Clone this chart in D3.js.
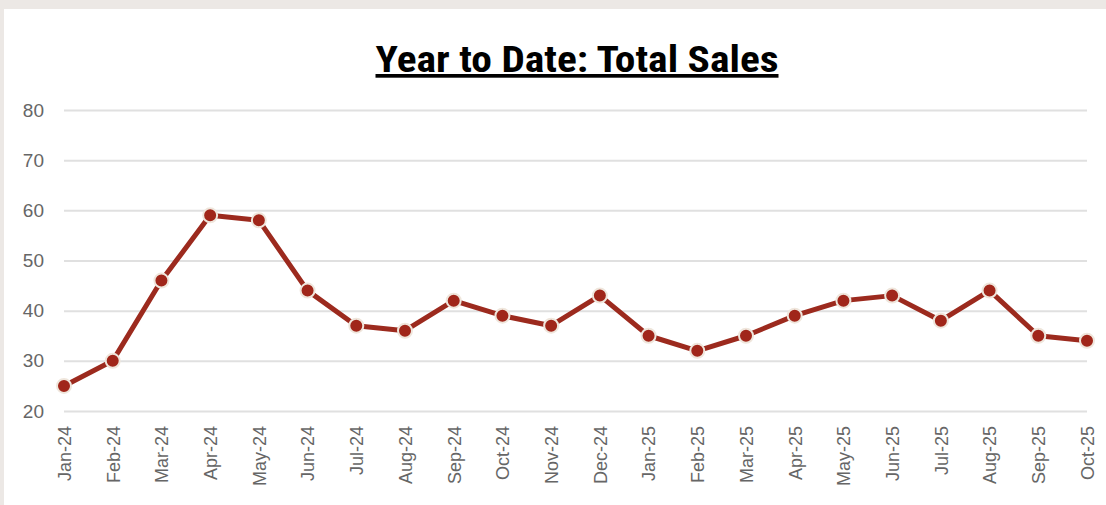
<!DOCTYPE html>
<html>
<head>
<meta charset="utf-8">
<script src="https://cdn.jsdelivr.net/npm/d3@7"></script>
<style>
  body { margin: 0; background: #ece8e5; }
  svg { display: block; }
</style>
</head>
<body>
<div class="box"></div>
<script>
const months = ['Jan-24','Feb-24','Mar-24','Apr-24','May-24','Jun-24','Jul-24','Aug-24','Sep-24','Oct-24','Nov-24','Dec-24',
                'Jan-25','Feb-25','Mar-25','Apr-25','May-25','Jun-25','Jul-25','Aug-25','Sep-25','Oct-25'];
const sales = [25, 30, 46, 59, 58, 44, 37, 36, 42, 39, 37, 43, 35, 32, 35, 39, 42, 43, 38, 44, 35, 34];
const yTicks = [20, 30, 40, 50, 60, 70, 80];

const dims = {width: 1106, height: 505};
const plot = {left: 64, right: 1087, top: 110, bottom: 411};

const svg = d3.select('.box')
              .append('svg')
              .attr('width', dims.width)
              .attr('height', dims.height);

// fond blanc du graphique
svg.append('rect')
   .attr('x', 4).attr('y', 9)
   .attr('width', dims.width - 4).attr('height', dims.height - 9)
   .attr('fill', '#fff');

const x = d3.scalePoint()
            .domain(months)
            .range([plot.left, plot.right]);

const y = d3.scaleLinear()
            .domain([20, 80])
            .range([plot.bottom, plot.top]);

// titre
svg.append('text')
   .attr('x', 577).attr('y', 72)
   .attr('text-anchor', 'middle')
   .attr('font-family', '"Liberation Sans Narrow", "Roboto Condensed", sans-serif')
   .attr('font-weight', 'bold')
   .attr('font-size', 37)
   .attr('textLength', 403)
   .attr('lengthAdjust', 'spacingAndGlyphs')
   .attr('text-decoration', 'underline')
   .attr('fill', '#000')
   .text('Year to Date: Total Sales');

// grille + axe y
const yAxis = svg.append('g')
   .attr('transform', `translate(${plot.left}, 0)`)
   .call(d3.axisLeft(y).tickValues(yTicks).tickSize(-(plot.right - plot.left)).tickPadding(20));

yAxis.select('.domain').remove();
yAxis.selectAll('line').attr('stroke', '#e0e0e0').attr('stroke-width', 2);
yAxis.selectAll('text')
     .attr('fill', '#666')
     .attr('font-family', '"Liberation Sans", Arial, sans-serif')
     .attr('font-size', 19);

// axe x
const xAxis = svg.append('g')
   .attr('transform', `translate(0, ${plot.bottom})`)
   .call(d3.axisBottom(x).tickSize(0));

xAxis.select('.domain').remove();
xAxis.selectAll('text')
     .attr('fill', '#666')
     .attr('font-family', '"Liberation Sans", Arial, sans-serif')
     .attr('font-size', 18)
     .attr('text-anchor', 'end')
     .attr('dy', '0.35em')
     .attr('transform', 'translate(0, 15) rotate(-90)')
     .attr('x', 0).attr('y', 0);

// ligne
const line = d3.line()
               .x((d, i) => x(months[i]))
               .y(d => y(d));

svg.append('path')
   .datum(sales)
   .attr('d', line)
   .attr('fill', 'none')
   .attr('stroke', '#9c2a1e')
   .attr('stroke-width', 5)
   .attr('stroke-linejoin', 'round');

svg.selectAll('circle')
   .data(sales)
   .enter()
   .append('circle')
   .attr('cx', (d, i) => x(months[i]))
   .attr('cy', d => y(d))
   .attr('r', 7)
   .attr('fill', '#a0261a')
   .attr('stroke', '#efe6dc')
   .attr('stroke-width', 2);
</script>
</body>
</html>
